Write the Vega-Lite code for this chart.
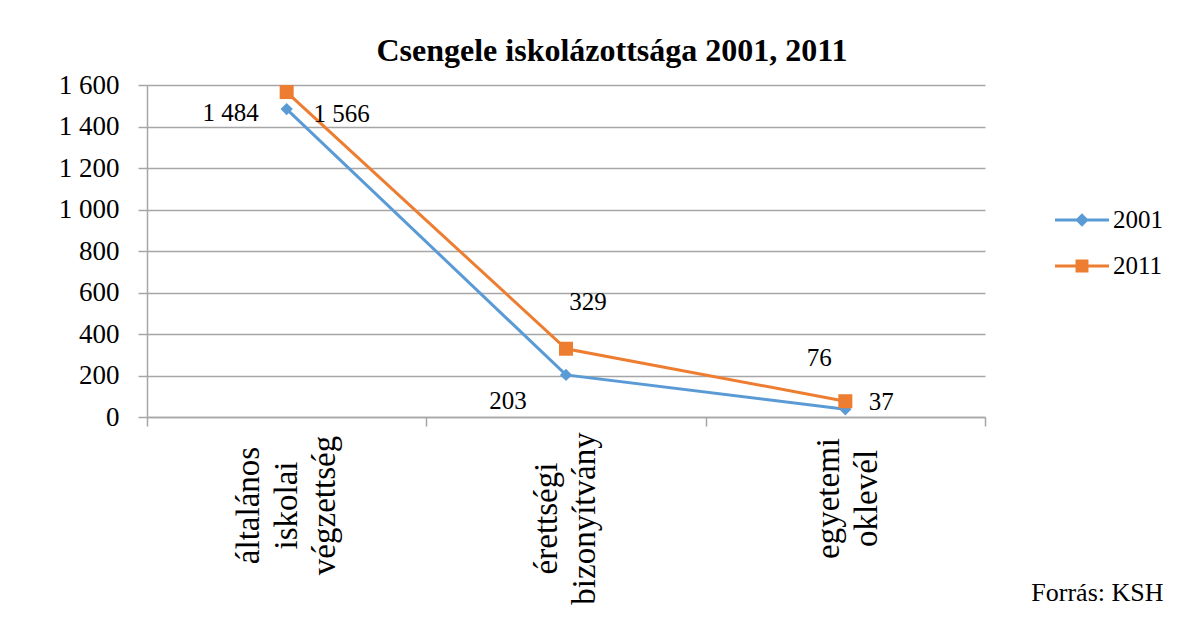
{
  "$schema": "https://vega.github.io/schema/vega-lite/v6.json",
  "autosize": "none",
  "width": 838,
  "height": 332,
  "padding": {"left": 147, "top": 85, "right": 195, "bottom": 202},
  "background": "white",
  "config": {
    "font": "Liberation Serif",
    "view": {"stroke": null}
  },
  "title": {
    "text": "Csengele iskolázottsága 2001, 2011",
    "font": "Liberation Serif",
    "fontSize": 32,
    "fontWeight": "bold",
    "color": "#000000",
    "anchor": "middle",
    "frame": "group",
    "dx": 46,
    "offset": -22,
    "baseline": "alphabetic"
  },
  "data": {
    "values": [
      {"cat": "általános iskolai végzettség", "year": "2001", "value": 1484},
      {"cat": "érettségi bizonyítvány", "year": "2001", "value": 203},
      {"cat": "egyetemi oklevél", "year": "2001", "value": 37},
      {"cat": "általános iskolai végzettség", "year": "2011", "value": 1566},
      {"cat": "érettségi bizonyítvány", "year": "2011", "value": 329},
      {"cat": "egyetemi oklevél", "year": "2011", "value": 76}
    ]
  },
  "transform": [
    {"calculate": "replace(format(datum.value, ','), ',', ' ')", "as": "label"}
  ],
  "encoding": {
    "x": {
      "field": "cat",
      "type": "nominal",
      "sort": null,
      "bandPosition": 0.5,
      "scale": {"type": "band", "paddingInner": 0, "paddingOuter": 0},
      "axis": {
        "title": "Forrás: KSH",
        "titleFont": "Liberation Serif",
        "titleFontSize": 26,
        "titleFontWeight": "normal",
        "titleColor": "#000000",
        "titleAngle": 0,
        "titleAlign": "right",
        "titleAnchor": null,
        "titleBaseline": "alphabetic",
        "titleX": 1016,
        "titleY": 183,
        "tickBand": "extent",
        "grid": false,
        "domainColor": "#a6a6a6",
        "domainWidth": 1.5,
        "tickColor": "#a6a6a6",
        "tickWidth": 1.5,
        "tickSize": 9,
        "labelAngle": 270,
        "labelAlign": "center",
        "labelBaseline": "middle",
        "labelPadding": {
          "condition": [
            {"test": "datum.value === 'érettségi bizonyítvány'", "value": 92},
            {"test": "datum.value === 'egyetemi oklevél'", "value": 72}
          ],
          "value": 79
        },
        "labelOffset": {
          "condition": [
            {"test": "datum.value === 'általános iskolai végzettség'", "value": -38},
            {"test": "datum.value === 'egyetemi oklevél'", "value": -17}
          ],
          "value": -20
        },
        "labelFontSize": 33,
        "labelLineHeight": 38,
        "labelColor": "#000000",
        "labelFont": "Liberation Serif",
        "labelOverlap": false,
        "labelBound": false,
        "labelFlush": false,
        "labelLimit": 0,
        "labelExpr": "split(datum.label, ' ')"
      }
    },
    "y": {
      "field": "value",
      "type": "quantitative",
      "scale": {"domain": [0, 1600], "nice": false},
      "axis": {
        "title": null,
        "values": [0, 200, 400, 600, 800, 1000, 1200, 1400, 1600],
        "labelExpr": "replace(format(datum.value, ','), ',', ' ')",
        "labelFontSize": 27,
        "labelFont": "Liberation Serif",
        "labelColor": "#000000",
        "labelPadding": 19,
        "tickSize": 9,
        "tickColor": "#a6a6a6",
        "tickWidth": 1.5,
        "domainColor": "#a6a6a6",
        "domainWidth": 1.5,
        "gridColor": "#a6a6a6",
        "gridWidth": 1.5,
        "labelFlush": false,
        "labelBound": false
      }
    },
    "color": {
      "field": "year",
      "type": "nominal",
      "scale": {"domain": ["2001", "2011"], "range": ["#5B9BD5", "#ED7D31"]},
      "legend": {
        "title": null,
        "orient": "none",
        "legendX": 920,
        "legendY": 120,
        "padding": 0,
        "symbolSize": 900,
        "rowPadding": 18,
        "labelOffset": 16,
        "labelFontSize": 25,
        "labelFont": "Liberation Serif",
        "labelColor": "#000000",
        "encode": {
          "symbols": {
            "update": {
              "shape": {"signal": "datum.value === '2001' ? 'M-1.8,-0.1H1.8V0.1H-1.8Z M-0.45,0L0,-0.45L0.45,0L0,0.45Z' : 'M-1.8,-0.1H1.8V0.1H-1.8Z M-0.43,-0.43H0.43V0.43H-0.43Z'"},
              "fill": {"signal": "datum.value === '2001' ? '#5B9BD5' : '#ED7D31'"},
              "stroke": {"value": "transparent"},
              "strokeWidth": {"value": 0},
              "opacity": {"value": 1},
              "fillOpacity": {"value": 1},
              "size": {"value": 900}
            }
          }
        }
      }
    }
  },
  "layer": [
    {
      "mark": {"type": "line", "strokeWidth": 3},
      "encoding": {}
    },
    {
      "transform": [{"filter": "datum.year === '2001'"}],
      "mark": {"type": "point", "filled": true, "opacity": 1, "shape": "diamond", "size": 150}
    },
    {
      "transform": [{"filter": "datum.year === '2011'"}],
      "mark": {"type": "point", "filled": true, "opacity": 1, "shape": "square", "size": 196}
    },
    {
      "transform": [{"filter": "datum.year === '2001' && datum.value === 1484"}],
      "mark": {"type": "text", "fontSize": 25, "font": "Liberation Serif", "dx": -56, "dy": 4, "baseline": "middle"},
      "encoding": {"text": {"field": "label"}, "color": {"value": "#000000"}}
    },
    {
      "transform": [{"filter": "datum.year === '2011' && datum.value === 1566"}],
      "mark": {"type": "text", "fontSize": 25, "font": "Liberation Serif", "dx": 55, "dy": 22, "baseline": "middle"},
      "encoding": {"text": {"field": "label"}, "color": {"value": "#000000"}}
    },
    {
      "transform": [{"filter": "datum.year === '2001' && datum.value === 203"}],
      "mark": {"type": "text", "fontSize": 25, "font": "Liberation Serif", "dx": -58, "dy": 26, "baseline": "middle"},
      "encoding": {"text": {"field": "label"}, "color": {"value": "#000000"}}
    },
    {
      "transform": [{"filter": "datum.year === '2011' && datum.value === 329"}],
      "mark": {"type": "text", "fontSize": 25, "font": "Liberation Serif", "dx": 22, "dy": -47, "baseline": "middle"},
      "encoding": {"text": {"field": "label"}, "color": {"value": "#000000"}}
    },
    {
      "transform": [{"filter": "datum.year === '2001' && datum.value === 37"}],
      "mark": {"type": "text", "fontSize": 25, "font": "Liberation Serif", "dx": 36, "dy": -7, "baseline": "middle"},
      "encoding": {"text": {"field": "label"}, "color": {"value": "#000000"}}
    },
    {
      "transform": [{"filter": "datum.year === '2011' && datum.value === 76"}],
      "mark": {"type": "text", "fontSize": 25, "font": "Liberation Serif", "dx": -26, "dy": -43, "baseline": "middle"},
      "encoding": {"text": {"field": "label"}, "color": {"value": "#000000"}}
    }
  ]
}
